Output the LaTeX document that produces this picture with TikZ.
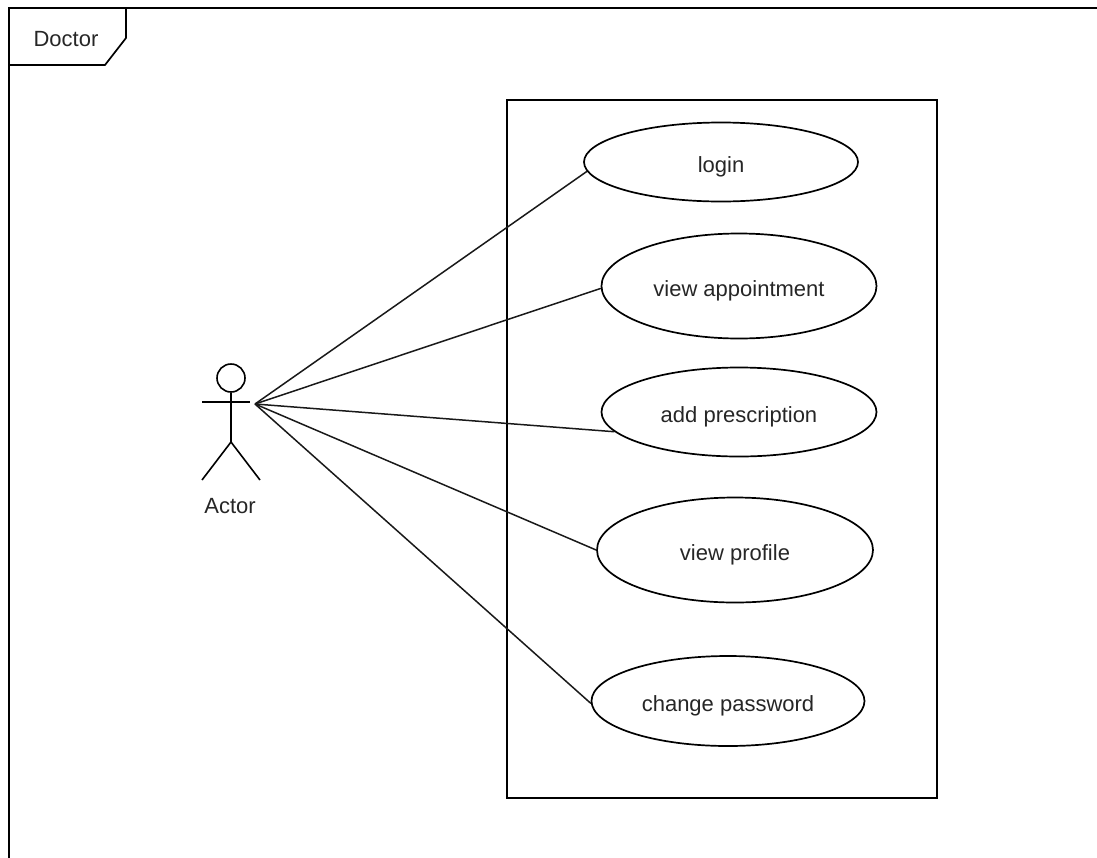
\documentclass[tikz,border=0pt]{standalone}
\usepackage{fontspec}
\setmainfont{Liberation Sans}
\usetikzlibrary{shapes.geometric}
\begin{document}
\begin{tikzpicture}[x=1pt,y=-1pt,
  uc/.style={draw=black, ellipse, line width=1.7pt, inner sep=0pt, text height=21pt, text depth=0pt, font=\fontsize{22}{26}\selectfont, text=black!85},
  ln/.style={line width=1.5pt, draw=black!90},
  lbl/.style={font=\fontsize{22}{26}\selectfont, text=black!85},
  frm/.style={line width=2pt, draw=black}]
\useasboundingbox (0,0) rectangle (1097,857);
% frame
\draw[frm] (9,870) -- (9,8) -- (1110,8);
\draw[line width=1.7pt] (9,65) -- (105,65) -- (126,38) -- (126,8);
\node[lbl] (frame) at (66,39) {Doctor};
% system boundary
\node[draw, line width=1.7pt, minimum width=430pt, minimum height=698pt, inner sep=0pt] (sys) at (722,449) {};
% actor
\node[draw, circle, line width=1.6pt, minimum size=28pt, inner sep=0pt] (head) at (231,378) {};
\coordinate (hip) at (231,442);
\coordinate (larm) at (202,402);
\coordinate (rarm) at (250,402);
\coordinate (lfoot) at (202,480);
\coordinate (rfoot) at (260,480);
\coordinate (hand) at (255,404);
\draw[line width=1.6pt] (head.south) -- (hip);
\draw[line width=1.6pt] (larm) -- (rarm);
\draw[line width=1.6pt] (lfoot) -- (hip) -- (rfoot);
\node[lbl] (actor) at (230,506) {Actor};
% use cases
\node[uc, minimum width=274pt, minimum height=79pt] (login) at (721,162) {login};
\node[uc, minimum width=275pt, minimum height=105pt] (appt) at (739,286) {view appointment};
\node[uc, minimum width=275pt, minimum height=89pt] (presc) at (739,412) {add prescription};
\node[uc, minimum width=276pt, minimum height=105pt] (profile) at (735,550) {view profile};
\node[uc, minimum width=273pt, minimum height=90pt] (pass) at (728,701) {change password};
% connectors
\draw[ln] (hand) -- (login.184);
\draw[ln] (hand) -- (appt.181);
\draw[ln] (hand) -- (presc.189);
\draw[ln] (hand) -- (profile.180);
\draw[ln] (hand) -- (pass.181);
\end{tikzpicture}
\end{document}
